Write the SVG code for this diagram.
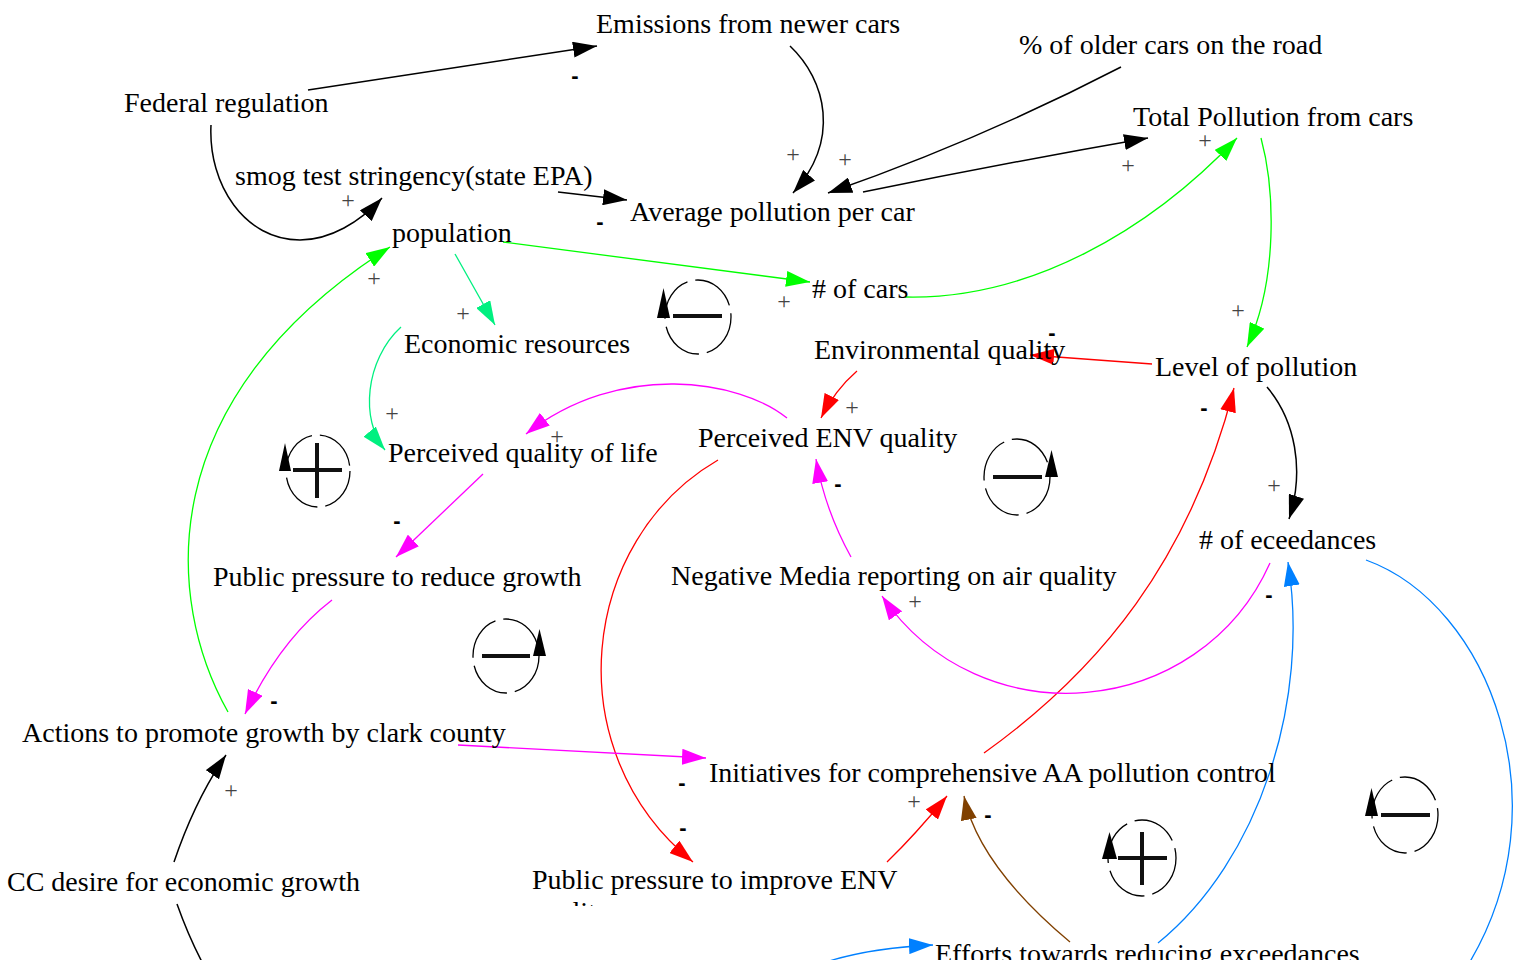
<svg xmlns="http://www.w3.org/2000/svg" width="1521" height="960" viewBox="0 0 1521 960">
<style>
.n{font-family:"Liberation Serif","Times New Roman",serif;font-size:28px;fill:#000}
.c{fill:none;stroke-width:1.3}
.k{stroke:#000;stroke-width:1.5}
.g{stroke:#00ff00}
.s{stroke:#00f080}
.r{stroke:#ff0000}
.m{stroke:#ff00ff}
.b{stroke:#0080ff}
.o{stroke:#804000}
.p{font-family:"Liberation Serif","Times New Roman",serif;font-size:24px;fill:#444;text-anchor:middle}
.d{font-family:"Liberation Sans",Arial,sans-serif;font-weight:bold;font-size:22px;fill:#000;text-anchor:middle}
.lc{fill:none;stroke:#000;stroke-width:1.3;stroke-dasharray:46 8}
.lb{stroke:#111;stroke-width:4;fill:none}
.la{fill:#000}
</style>
<defs>
<marker id="ak" markerUnits="userSpaceOnUse" markerWidth="24" markerHeight="16" viewBox="0 0 24 16" refX="24" refY="8" orient="auto"><path d="M0,0 L24,8 L0,16 Z" fill="#000"/></marker>
<marker id="ag" markerUnits="userSpaceOnUse" markerWidth="24" markerHeight="16" viewBox="0 0 24 16" refX="24" refY="8" orient="auto"><path d="M0,0 L24,8 L0,16 Z" fill="#00ff00"/></marker>
<marker id="as" markerUnits="userSpaceOnUse" markerWidth="24" markerHeight="16" viewBox="0 0 24 16" refX="24" refY="8" orient="auto"><path d="M0,0 L24,8 L0,16 Z" fill="#00f080"/></marker>
<marker id="ar" markerUnits="userSpaceOnUse" markerWidth="24" markerHeight="16" viewBox="0 0 24 16" refX="24" refY="8" orient="auto"><path d="M0,0 L24,8 L0,16 Z" fill="#ff0000"/></marker>
<marker id="am" markerUnits="userSpaceOnUse" markerWidth="24" markerHeight="16" viewBox="0 0 24 16" refX="24" refY="8" orient="auto"><path d="M0,0 L24,8 L0,16 Z" fill="#ff00ff"/></marker>
<marker id="ab" markerUnits="userSpaceOnUse" markerWidth="24" markerHeight="16" viewBox="0 0 24 16" refX="24" refY="8" orient="auto"><path d="M0,0 L24,8 L0,16 Z" fill="#0080ff"/></marker>
<marker id="ao" markerUnits="userSpaceOnUse" markerWidth="24" markerHeight="16" viewBox="0 0 24 16" refX="24" refY="8" orient="auto"><path d="M0,0 L24,8 L0,16 Z" fill="#804000"/></marker>
<clipPath id="clipPPIE"><rect x="0" y="0" width="1521" height="906"/></clipPath>
</defs>
<rect x="0" y="0" width="1521" height="960" fill="#fff"/>

<g id="connectors">
<path class="c k" d="M308,90 L597,46" marker-end="url(#ak)"/>
<path class="c k" d="M211,125 C208,185 245,240 300,240 C330,240 360,222 382,198" marker-end="url(#ak)"/>
<path class="c k" d="M558,192 L627,200" marker-end="url(#ak)"/>
<path class="c k" d="M790,46 C826,80 841,140 793,193" marker-end="url(#ak)"/>
<path class="c k" d="M1121,67 Q980,140 828,193" marker-end="url(#ak)"/>
<path class="c k" d="M863,192 Q1010,162 1148,138" marker-end="url(#ak)"/>
<path class="c k" d="M1267,387 C1295,420 1305,470 1289,519" marker-end="url(#ak)"/>
<path class="c k" d="M174,862 Q195,800 226,755" marker-end="url(#ak)"/>
<path class="c k" d="M177,904 Q188,935 202,962"/>
<path class="c g" d="M503,242 L810,282" marker-end="url(#ag)"/>
<path class="c g" d="M905,297 C1030,300 1150,230 1237,138" marker-end="url(#ag)"/>
<path class="c g" d="M1261,138 C1275,190 1278,280 1247,347" marker-end="url(#ag)"/>
<path class="c g" d="M228,712 C165,600 150,400 390,247" marker-end="url(#ag)"/>
<path class="c s" d="M455,254 L495,325" marker-end="url(#as)"/>
<path class="c s" d="M401,327 C365,360 360,420 385,450" marker-end="url(#as)"/>
<path class="c r" d="M1152,364 L1030,355" marker-end="url(#ar)"/>
<path class="c r" d="M857,371 Q835,390 821,418" marker-end="url(#ar)"/>
<path class="c r" d="M718,460 C580,540 555,750 693,862" marker-end="url(#ar)"/>
<path class="c r" d="M887,862 Q915,835 947,796" marker-end="url(#ar)"/>
<path class="c r" d="M984,753 C1100,670 1190,560 1234,388" marker-end="url(#ar)"/>
<path class="c m" d="M787,418 C740,380 620,360 526,434" marker-end="url(#am)"/>
<path class="c m" d="M483,474 L396,557" marker-end="url(#am)"/>
<path class="c m" d="M332,600 Q280,640 245,714" marker-end="url(#am)"/>
<path class="c m" d="M458,745 L706,758" marker-end="url(#am)"/>
<path class="c m" d="M851,557 Q825,510 816,459" marker-end="url(#am)"/>
<path class="c m" d="M1270,563 C1200,720 980,740 882,596" marker-end="url(#am)"/>
<path class="c b" d="M1158,943 C1260,860 1310,700 1288,562" marker-end="url(#ab)"/>
<path class="c b" d="M1366,560 C1490,605 1565,805 1468,965"/>
<path class="c b" d="M826,962 Q870,948 933,945" marker-end="url(#ab)"/>
<path class="c o" d="M1070,942 C1020,900 975,850 964,796" marker-end="url(#ao)"/>
</g>

<g id="polarity">
<text class="d" x="575" y="83">-</text>
<text class="p" x="348" y="208">+</text>
<text class="d" x="600" y="229">-</text>
<text class="p" x="793" y="162">+</text>
<text class="p" x="845" y="167">+</text>
<text class="p" x="1128" y="173">+</text>
<text class="p" x="1205" y="148">+</text>
<text class="p" x="1238" y="318">+</text>
<text class="p" x="374" y="286">+</text>
<text class="p" x="463" y="321">+</text>
<text class="p" x="784" y="309">+</text>
<text class="d" x="1052" y="340">-</text>
<text class="p" x="852" y="415">+</text>
<text class="p" x="392" y="421">+</text>
<text class="p" x="557" y="444">+</text>
<text class="d" x="838" y="491">-</text>
<text class="p" x="1274" y="493">+</text>
<text class="d" x="1204" y="415">-</text>
<text class="d" x="397" y="528">-</text>
<text class="d" x="1269" y="602">-</text>
<text class="p" x="915" y="609">+</text>
<text class="d" x="274" y="708">-</text>
<text class="d" x="682" y="790">-</text>
<text class="p" x="231" y="798">+</text>
<text class="p" x="914" y="809">+</text>
<text class="d" x="988" y="822">-</text>
<text class="d" x="683" y="835">-</text>
</g>

<g id="loops">
<g id="loop1"><ellipse class="lc" cx="698" cy="317" rx="33" ry="37"/><line class="lb" x1="673" y1="316" x2="722" y2="316"/><path class="la" d="M657,318 L663.5,288 L670,318 Z"/></g>
<g id="loop2"><ellipse class="lc" cx="318" cy="471" rx="32" ry="36"/><line class="lb" x1="293" y1="470" x2="342" y2="470"/><line class="lb" x1="317" y1="443" x2="317" y2="498"/><path class="la" d="M279,471 L285,443 L291,471 Z"/></g>
<g id="loop3"><ellipse class="lc" cx="1017" cy="477" rx="33" ry="38"/><line class="lb" x1="993" y1="477" x2="1042" y2="477"/><path class="la" d="M1045,477 L1051.5,450 L1058,477 Z"/></g>
<g id="loop4"><ellipse class="lc" cx="506" cy="656" rx="33" ry="37"/><line class="lb" x1="482" y1="656" x2="530" y2="656"/><path class="la" d="M533,656 L539.5,629 L546,656 Z"/></g>
<g id="loop5"><ellipse class="lc" cx="1142" cy="858" rx="34" ry="38"/><line class="lb" x1="1118" y1="858" x2="1167" y2="858"/><line class="lb" x1="1142" y1="832" x2="1142" y2="885"/><path class="la" d="M1102,859 L1109.5,832 L1117,859 Z"/></g>
<g id="loop6"><ellipse class="lc" cx="1405" cy="815" rx="33" ry="38"/><line class="lb" x1="1381" y1="815" x2="1430" y2="815"/><path class="la" d="M1365,816 L1371.5,788 L1378,816 Z"/></g>
</g>

<g id="n-emissions"><text class="n" x="596" y="33">Emissions from newer cars</text></g>
<g id="n-older"><text class="n" x="1019" y="54">% of older cars on the road</text></g>
<g id="n-federal"><text class="n" x="124" y="112">Federal regulation</text></g>
<g id="n-total"><text class="n" x="1133" y="126">Total Pollution from cars</text></g>
<g id="n-smog"><text class="n" x="235" y="185">smog test stringency(state EPA)</text></g>
<g id="n-average"><text class="n" x="630" y="221">Average pollution per car</text></g>
<g id="n-population"><text class="n" x="392" y="242">population</text></g>
<g id="n-cars"><text class="n" x="812" y="298"># of cars</text></g>
<g id="n-economic"><text class="n" x="404" y="353">Economic resources</text></g>
<g id="n-envquality"><text class="n" x="814" y="359">Environmental quality</text></g>
<g id="n-level"><text class="n" x="1155" y="376">Level of pollution</text></g>
<g id="n-penv"><text class="n" x="698" y="447">Perceived ENV quality</text></g>
<g id="n-pql"><text class="n" x="388" y="462">Perceived quality of life</text></g>
<g id="n-exceed"><text class="n" x="1199" y="549"># of eceedances</text></g>
<g id="n-pprg"><text class="n" x="213" y="586">Public pressure to reduce growth</text></g>
<g id="n-media"><text class="n" x="671" y="585">Negative Media reporting on air quality</text></g>
<g id="n-actions"><text class="n" x="22" y="742">Actions to promote growth by clark county</text></g>
<g id="n-initiatives"><text class="n" x="709" y="782">Initiatives for comprehensive AA pollution control</text></g>
<g id="n-cc"><text class="n" x="7" y="891">CC desire for economic growth</text></g>
<g id="n-ppie" clip-path="url(#clipPPIE)"><text class="n" x="532" y="889">Public pressure to improve ENV</text><text class="n" x="532" y="921">quality</text></g>
<g id="n-efforts"><text class="n" x="935" y="963">Efforts towards reducing exceedances</text></g>
</svg>
